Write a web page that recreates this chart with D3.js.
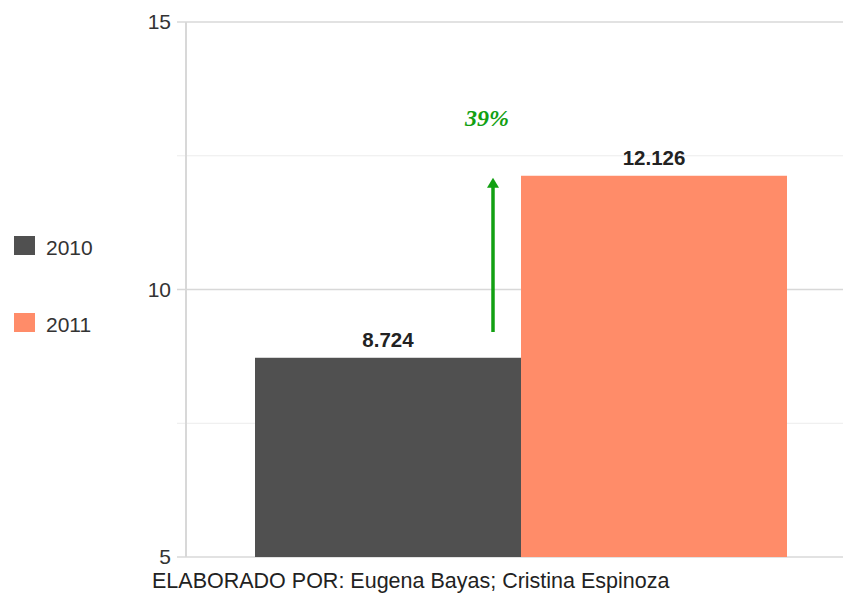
<!DOCTYPE html>
<html>
<head>
<meta charset="utf-8">
<script src="https://cdn.jsdelivr.net/npm/d3@7"></script>
<style>
  html, body { margin: 0; padding: 0; background: #fff; }
  svg { display: block; font-family: "Liberation Sans", Arial, sans-serif; }
</style>
</head>
<body>
<svg id="chart" width="843" height="593"></svg>
<script>
// Series
const years = ["2010", "2011"];
const values = [8.724, 12.126];
const valueLabels = ["8.724", "12.126"];
const colors = ["#505050", "#FF8C69"];
const yTicks = [5, 10, 15];
const gridTicks = [5, 7.5, 10, 12.5, 15];
const growthLabel = "39%";
const footer = "ELABORADO POR: Eugena Bayas; Cristina Espinoza";

const svg = d3.select("#chart");

const y = d3.scaleLinear().domain([5, 15]).range([557, 22]);
const x = d3.scaleBand().domain(years).range([255, 787]).paddingInner(0).paddingOuter(0);

// Horizontal grid lines
svg.append("g")
  .selectAll("line")
  .data(gridTicks)
  .join("line")
  .attr("x1", 177)
  .attr("x2", 843)
  .attr("y1", d => y(d))
  .attr("y2", d => y(d))
  .attr("stroke", d => (d % 5 === 0) ? "#d8d8d8" : "#ececec")
  .attr("stroke-width", d => (d % 5 === 0) ? 1.5 : 1);

// Vertical axis line
svg.append("line")
  .attr("x1", 186).attr("x2", 186)
  .attr("y1", y(15)).attr("y2", y(5))
  .attr("stroke", "#d8d8d8")
  .attr("stroke-width", 2);

// Y axis tick labels
const yAxis = d3.axisLeft(y).tickValues(yTicks).tickSize(0).tickPadding(0);
const yg = svg.append("g").attr("transform", "translate(171,0)").call(yAxis);
yg.select(".domain").remove();
yg.selectAll("text")
  .attr("font-size", 21)
  .attr("fill", "#333")
  .attr("font-family", "Liberation Sans, Arial, sans-serif");

// Bars
svg.append("g")
  .selectAll("rect")
  .data(years)
  .join("rect")
  .attr("x", d => x(d))
  .attr("width", x.bandwidth())
  .attr("y", (d, i) => y(values[i]))
  .attr("height", (d, i) => y(5) - y(values[i]))
  .attr("fill", (d, i) => colors[i]);

// Value labels
svg.append("g")
  .selectAll("text")
  .data(years)
  .join("text")
  .attr("x", d => x(d) + x.bandwidth() / 2)
  .attr("y", (d, i) => y(values[i]) - 11)
  .attr("text-anchor", "middle")
  .attr("font-size", 20.5)
  .attr("font-weight", "bold")
  .attr("fill", "#222")
  .text((d, i) => valueLabels[i]);

// Growth arrow
const arrowX = 493;
const green = "#12a012";
svg.append("line")
  .attr("x1", arrowX).attr("x2", arrowX)
  .attr("y1", 332).attr("y2", y(values[1]) + 10)
  .attr("stroke", green)
  .attr("stroke-width", 3.5);
svg.append("path")
  .attr("d", d3.line()([
    [arrowX - 6, y(values[1]) + 12],
    [arrowX, y(values[1]) + 2],
    [arrowX + 6, y(values[1]) + 12]
  ]) + "Z")
  .attr("fill", green);

svg.append("text")
  .attr("x", 487)
  .attr("y", 126)
  .attr("text-anchor", "middle")
  .attr("font-family", "Liberation Serif, Times New Roman, serif")
  .attr("font-style", "italic")
  .attr("font-weight", "bold")
  .attr("font-size", 24)
  .attr("fill", green)
  .text(growthLabel);

// Legend
const legend = svg.append("g")
  .selectAll("g")
  .data(years)
  .join("g")
  .attr("transform", (d, i) => `translate(14,${236 + i * 77})`);
legend.append("rect")
  .attr("width", 21).attr("height", 19)
  .attr("fill", (d, i) => colors[i]);
legend.append("text")
  .attr("x", 32).attr("y", 18.5)
  .attr("font-size", 21)
  .attr("fill", "#333")
  .text(d => d);

// Footer
svg.append("text")
  .attr("x", 152)
  .attr("y", 588)
  .attr("font-size", 21.5)
  .attr("fill", "#222")
  .text(footer);
</script>
</body>
</html>
